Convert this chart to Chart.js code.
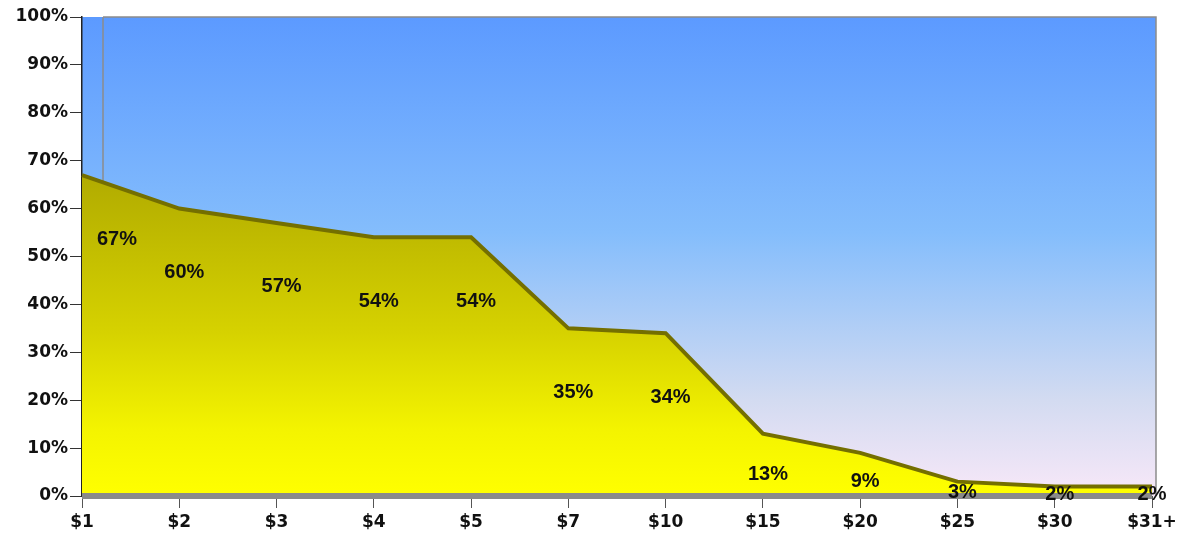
<!DOCTYPE html>
<html>
<head>
<meta charset="utf-8">
<script src="https://cdn.jsdelivr.net/npm/chart.js@4.4.1/dist/chart.umd.min.js"></script>
<style>
    html, body { margin: 0; padding: 0; background: #ffffff; }
    #wrap { width: 1186px; height: 559px; position: relative; }
</style>
</head>
<body>
<div id="wrap"><canvas id="priceChart"></canvas></div>
<script>
// price points and share of respondents
const priceLabels = ["$1", "$2", "$3", "$4", "$5", "$7", "$10", "$15", "$20", "$25", "$30", "$31+"];
const shareValues = [67, 60, 57, 54, 54, 35, 34, 13, 9, 3, 2, 2];
const yTicks = [0, 10, 20, 30, 40, 50, 60, 70, 80, 90, 100];

// plot background (blue to pale pink) and the back wall edges
const wallPlugin = {
    id: 'wall',
    beforeDraw(chart) {
        const ctx = chart.ctx;
        const a = chart.chartArea;
        const g = ctx.createLinearGradient(0, a.top, 0, a.bottom);
        g.addColorStop(0, "#5c9aff");
        g.addColorStop(0.45, "#84bdfc");
        g.addColorStop(0.8, "#d3dbf1");
        g.addColorStop(1, "#f8e8f8");
        ctx.save();
        ctx.fillStyle = g;
        ctx.fillRect(a.left, a.top, a.right - a.left + 4, a.bottom - a.top);
        ctx.strokeStyle = "#8c8c8c";
        ctx.lineWidth = 1.5;
        ctx.beginPath();
        ctx.moveTo(a.left + 21, a.top);
        ctx.lineTo(a.left + 21, a.bottom);
        ctx.moveTo(a.left + 21, a.top);
        ctx.lineTo(a.right + 4, a.top);
        ctx.lineTo(a.right + 4, a.bottom);
        ctx.stroke();
        ctx.restore();
    },
    afterDatasetsDraw(chart) {
        // grey floor strip under the area
        const ctx = chart.ctx;
        const a = chart.chartArea;
        ctx.save();
        ctx.fillStyle = "#8a8a8a";
        ctx.fillRect(a.left, a.bottom - 3, a.right - a.left, 6);
        ctx.restore();
    }
};

// percentage labels inside the area
const labelPlugin = {
    id: 'valueLabels',
    afterDraw(chart) {
        const ctx = chart.ctx;
        const a = chart.chartArea;
        const meta = chart.getDatasetMeta(0);
        const yScale = chart.scales.y;
        ctx.save();
        ctx.font = "bold 20px 'Liberation Sans', Arial, sans-serif";
        ctx.fillStyle = "#111111";
        ctx.textAlign = "center";
        ctx.textBaseline = "middle";
        meta.data.forEach((pt, i) => {
            const base = yScale.getPixelForValue(0);
            const dist = base - pt.y;
            const off = Math.min(62, dist * 0.62) + 2;
            let x = Math.max(pt.x + 5, a.left + 35);
            x = Math.min(x, a.right);
            ctx.fillText(shareValues[i] + "%", x, pt.y + off);
        });
        ctx.restore();
    }
};

const ctx = document.getElementById('priceChart').getContext('2d');
const fillGrad = ctx.createLinearGradient(0, 170, 0, 496);
fillGrad.addColorStop(0, "#b0aa00");
fillGrad.addColorStop(0.5, "#d6d200");
fillGrad.addColorStop(0.8, "#f4f400");
fillGrad.addColorStop(1, "#ffff00");

new Chart(ctx, {
    type: 'line',
    data: {
        labels: priceLabels,
        datasets: [{
            data: shareValues,
            borderColor: "#746f00",
            backgroundColor: fillGrad,
            borderWidth: 4,
            fill: 'origin',
            tension: 0,
            pointRadius: 0
        }]
    },
    plugins: [wallPlugin, labelPlugin],
    options: {
        responsive: true,
        maintainAspectRatio: false,
        animation: false,
        layout: {
            padding: { top: 17, right: 34, left: 0, bottom: 0 }
        },
        plugins: {
            legend: { display: false },
            tooltip: { enabled: false }
        },
        scales: {
            x: {
                offset: false,
                grid: {
                    display: true,
                    drawOnChartArea: false,
                    drawTicks: true,
                    tickLength: 12,
                    color: "#555555"
                },
                border: { display: true, color: "#555555" },
                ticks: {
                    color: "#111111",
                    padding: 4,
                    maxRotation: 0,
                    autoSkip: false,
                    font: { family: "'DejaVu Sans', sans-serif", size: 17, weight: 'bold' }
                },
                afterFit(scale) { scale.height = 63; }
            },
            y: {
                min: 0,
                max: 100,
                afterBuildTicks(scale) {
                    scale.ticks = yTicks.map(v => ({ value: v }));
                },
                grid: {
                    display: true,
                    drawOnChartArea: false,
                    drawTicks: true,
                    tickLength: 12,
                    color: "#333333"
                },
                border: { display: true, color: "#222222", width: 1.5 },
                ticks: {
                    color: "#111111",
                    padding: 2,
                    callback: v => v + "%",
                    font: { family: "'DejaVu Sans', sans-serif", size: 17, weight: 'bold' }
                },
                afterFit(scale) { scale.width = 82; }
            }
        }
    }
});
</script>
</body>
</html>
